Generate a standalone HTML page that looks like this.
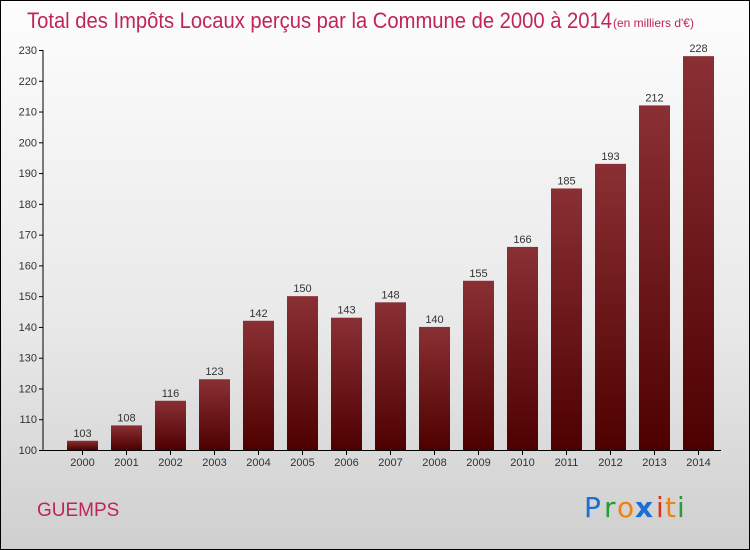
<!DOCTYPE html>
<html><head><meta charset="utf-8"><style>
body{margin:0}
#c{width:748px;height:548px;border:1px solid #000;background:linear-gradient(#fdfdfd,#e8e8e8 60%,#cfcfcf);position:relative;font-family:"Liberation Sans",sans-serif}
</style></head><body>
<div id="c">
<svg width="748" height="548" style="position:absolute;left:0;top:0" id="s">
<defs><linearGradient id="g" x1="0" y1="0" x2="0" y2="1"><stop offset="0" stop-color="#8a3035"/><stop offset="1" stop-color="#4e0000"/></linearGradient></defs>
<text x="26" y="27" font-size="22" fill="#c0245a" textLength="585" lengthAdjust="spacingAndGlyphs">Total des Impôts Locaux perçus par la Commune de 2000 à 2014</text>
<text x="612" y="26" font-size="12" fill="#c0245a">(en milliers d'€)</text>
<text x="36" y="515" font-size="19" fill="#c0245a">GUEMPS</text>
<g font-size="28" font-family="'DejaVu Sans',sans-serif">
<text x="583" y="516" fill="#1a6fd0">P</text><text x="603" y="516" fill="#2a9a3a">r</text><text x="616" y="516" fill="#f08010">o</text><text x="634" y="516" fill="#1a6fd0" font-weight="bold">x</text><text x="655" y="516" fill="#e03010">i</text><text x="664" y="516" fill="#f08010">t</text><text x="676" y="516" fill="#2a9a3a">i</text>
</g>
<g id="plot"></g>
</svg>
</div>
<script>
const years=["2000","2001","2002","2003","2004","2005","2006","2007","2008","2009","2010","2011","2012","2013","2014"];
const values=[103,108,116,123,142,150,143,148,140,155,166,185,193,212,228];
const ticks=[100,110,120,130,140,150,160,170,180,190,200,210,220,230];
const NS="http://www.w3.org/2000/svg";
const p=document.getElementById('plot');
const y=v=>449-(v-100)*400/130;
const x=i=>66+i*44;
function mk(t,a,txt){const e=document.createElementNS(NS,t);for(const k in a)e.setAttribute(k,a[k]);if(txt!=null)e.textContent=txt;p.appendChild(e);return e;}
let ax=mk('line',{x1:42,y1:y(230),x2:42,y2:449,stroke:'#000'});


let bx=mk('line',{x1:42,y1:449.5,x2:720,y2:449.5,stroke:'#000'});


ticks.forEach(t=>{
 let l=mk('line',{x1:38,y1:y(t)+.5,x2:42,y2:y(t)+.5,stroke:'#000'});
 
 
 let tx=mk('text',{x:36,y:y(t)+4,'font-size':11,'text-anchor':'end',fill:'#333'},t);
 
 
});
years.forEach((yr,i)=>{
 let r=mk('rect',{x:x(i),y:y(values[i]),width:31,height:449-y(values[i]),fill:'url(#g)'});
 
 
 let v=mk('text',{x:x(i)+15.5,y:y(values[i])-4,'font-size':11,'text-anchor':'middle',fill:'#333'},values[i]);
 
 
 let tk=mk('line',{x1:x(i)+15.5,y1:450,x2:x(i)+15.5,y2:454,stroke:'#000'});
 
 
 let l=mk('text',{x:x(i)+15.5,y:465,'font-size':11,'text-anchor':'middle',fill:'#333'},yr);
 
 
});
</script>
</body></html>
